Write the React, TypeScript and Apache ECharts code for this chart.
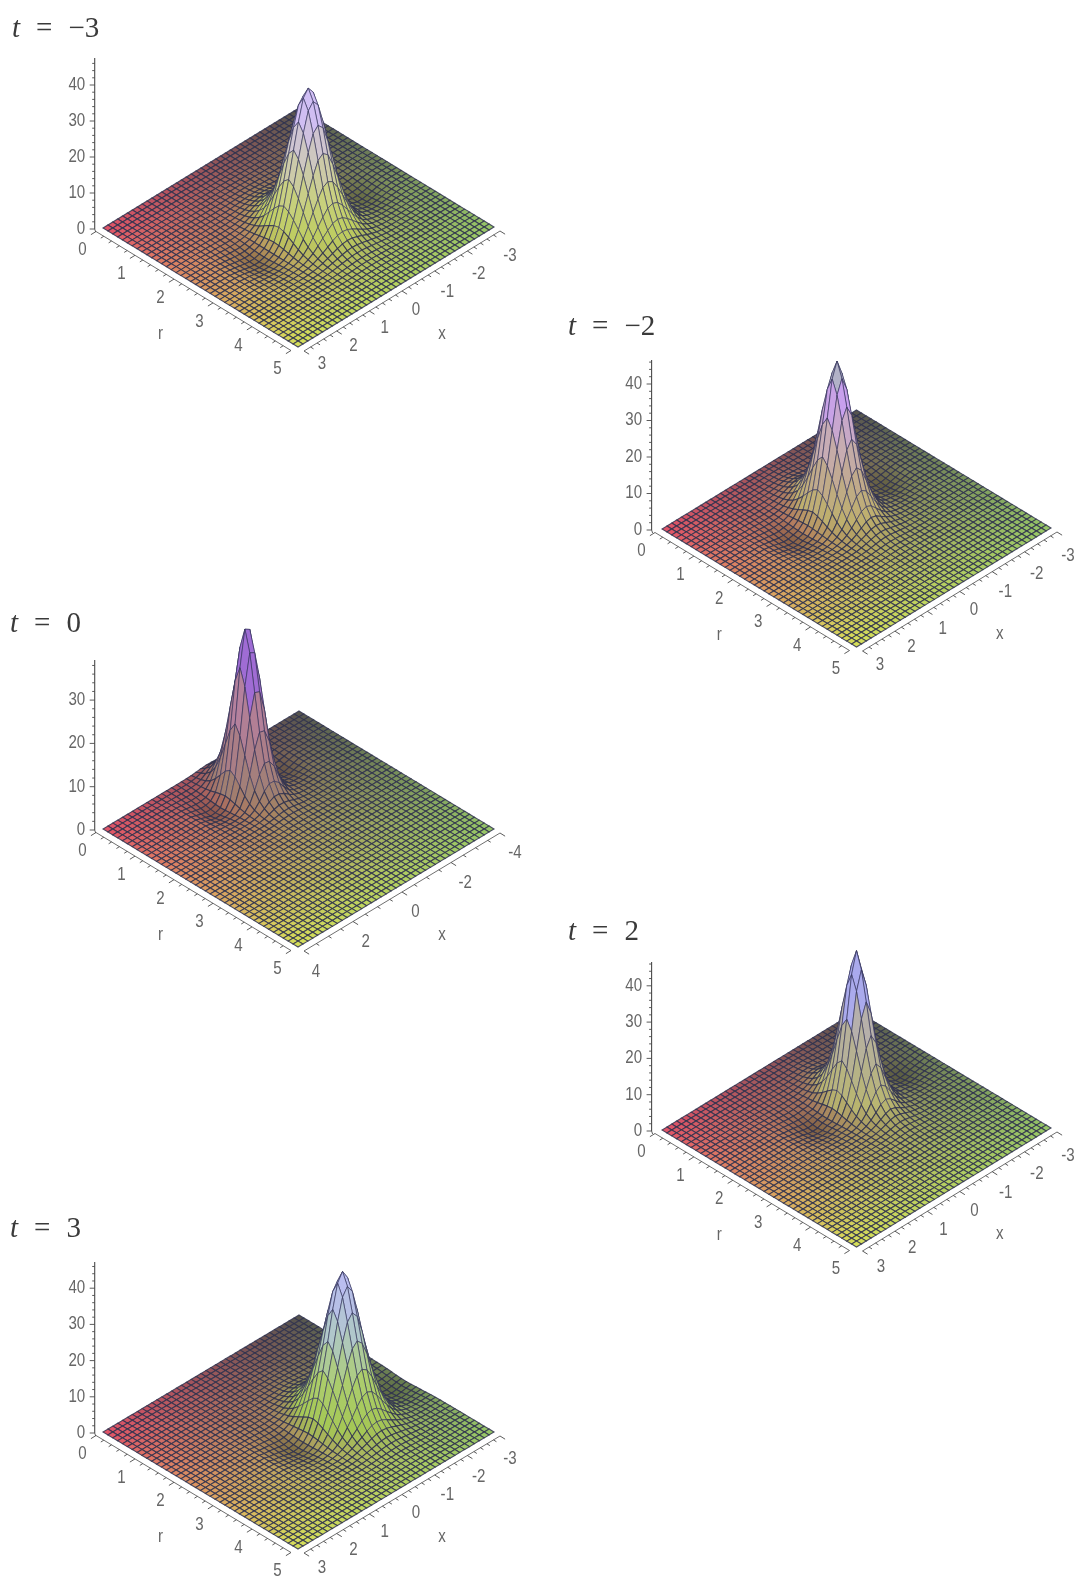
import React, { useEffect, useRef } from "react";
import * as echarts from "echarts";

const W = 1081;
const H = 1580;
const N = 40;

// Heights of each surface along r (at the crest's x), one value per mesh line.
const zAlongR_tm3 = [0,0,0,0,0,0.1,0.1,0.2,0.3,0.45,0.7,1.2,1.9,3,4.6,7.2,10.8,16,23,30,35.8,38.7,35.8,30,23,16,10.8,7.2,4.6,3,1.9,1.2,0.7,0.45,0.3,0.2,0.1,0.1,0,0,0];
const zAlongR_tm2 = [0,0.1,0.2,0.3,0.5,0.9,1.5,2.4,3.8,6,9.6,15,22,30,37,41,37,30,22,15,9.6,6,3.8,2.4,1.5,0.9,0.5,0.3,0.2,0.1,0.1,0,0,0,0,0,0,0,0,0,0];
const zAlongR_t0 = [0.4,1.4,2.7,5,9,15.5,24,32.5,37.3,32.5,24,15.5,9,5,2.7,1.4,0.7,0.4,0.2,0.1,0.1,0,0,0,0,0,0,0,0,0,0,0,0,0,0,0,0,0,0,0,0];
const zAlongR_t2 = [0,0.1,0.15,0.25,0.4,0.7,1.1,1.9,3,4.9,8,13,20,28.5,36.5,41,36.5,28.5,20,13,8,4.9,3,1.9,1.1,0.7,0.4,0.25,0.15,0.1,0.1,0,0,0,0,0,0,0,0,0,0];
const zAlongR_t3 = [0,0,0,0,0,0,0.1,0.1,0.2,0.3,0.4,0.6,1,1.7,2.8,4.4,7,11,16.5,23.5,30.5,37,40.3,37,30.5,23.5,16.5,11,7,4.4,2.8,1.7,1,0.6,0.4,0.3,0.2,0.1,0.1,0,0];

// Fraction of that height across x, one value per mesh line from x = min to x = max.
const xShape_tm3 = [0,0,0,0,-0.005,-0.011,-0.02,-0.028,-0.033,-0.032,-0.02,0,0.045,0.13,0.26,0.43,0.62,0.8,0.95,1,0.95,0.8,0.62,0.43,0.26,0.13,0.045,0,-0.02,-0.032,-0.033,-0.028,-0.02,-0.011,-0.005,0,0,0,0,0,0];
const xShape_tm2 = [0,0,0,0,0,0,-0.007,-0.015,-0.024,-0.032,-0.034,-0.025,-0.015,0.02,0.09,0.22,0.42,0.66,0.9,1,0.9,0.66,0.42,0.22,0.09,0.02,-0.015,-0.025,-0.034,-0.032,-0.024,-0.015,-0.007,0,0,0,0,0,0,0,0];
const xShape_t0 = [0,0,0,0,0,0,0,0,0,-0.01,-0.02,-0.03,-0.028,-0.015,0.04,0.18,0.45,0.78,0.98,1,0.78,0.45,0.18,0.04,-0.015,-0.028,-0.03,-0.02,-0.01,0,0,0,0,0,0,0,0,0,0,0,0];
const xShape_t2 = [0,0,-0.008,-0.013,-0.02,-0.03,-0.035,-0.033,-0.018,-0.01,0.04,0.14,0.32,0.58,0.86,1,0.86,0.58,0.32,0.14,0.04,-0.01,-0.018,-0.033,-0.035,-0.03,-0.02,-0.013,-0.008,0,0,0,0,0,0,0,0,0,0,0,0];
const xShape_t3 = [-0.015,-0.022,-0.03,-0.035,-0.03,-0.012,0.03,0.11,0.23,0.4,0.58,0.78,0.94,1,0.94,0.78,0.58,0.4,0.23,0.11,0.03,-0.012,-0.03,-0.035,-0.03,-0.022,-0.015,-0.01,0,0,0,0,0,0,0,0,0,0,0,0,0];

const rTicks = [0, 1, 2, 3, 4, 5];
const zTicks = [0, 10, 20, 30, 40];
const zTicksT0 = [0, 10, 20, 30];
const xTicksWide = [-3, -2, -1, 0, 1, 2, 3];
const xTicksT0 = [-4, -2, 0, 2, 4];
const titleValues = ["\u22123", "\u22122", "0", "2", "3"];

type Stop = [number, number, number, number];
const panels = [
  { zr: zAlongR_tm3, xs: xShape_tm3, zT: zTicks, xT: xTicksWide, xMax: 3, xMinor: 0.2, title: titleValues[0],
    L: [103, 228], B: [298, 347], Rt: [494, 227], s: 3.6, axisX: 94.7, topY: 58, nearOff: [24, 16], farOff: [16, 28], titlePos: [12, 27],
    stops: [[4, 190, 205, 95], [12, 200, 208, 125], [22, 205, 200, 185], [32, 208, 190, 242], [40, 210, 192, 248]] as Stop[] },
  { zr: zAlongR_tm2, xs: xShape_tm2, zT: zTicks, xT: xTicksWide, xMax: 3, xMinor: 0.2, title: titleValues[1],
    L: [662, 529], B: [856.5, 647], Rt: [1051, 528], s: 3.65, axisX: 651.6, topY: 360, nearOff: [23.5, 17], farOff: [17, 27], titlePos: [568, 325],
    stops: [[4, 190, 175, 110], [12, 192, 170, 140], [22, 200, 172, 185], [32, 200, 160, 238], [36.5, 200, 160, 242], [37, 178, 178, 200], [41, 178, 178, 200]] as Stop[] },
  { zr: zAlongR_t0, xs: xShape_t0, zT: zTicksT0, xT: xTicksT0, xMax: 4, xMinor: 0.5, title: titleValues[2],
    L: [103, 829], B: [298, 947], Rt: [494, 829], s: 4.33, axisX: 94.7, topY: 660, nearOff: [18, 24], farOff: [21, 23], titlePos: [10, 622],
    stops: [[4, 160, 128, 115], [14, 175, 125, 142], [24, 182, 130, 162], [25, 160, 108, 212], [37, 158, 108, 212]] as Stop[] },
  { zr: zAlongR_t2, xs: xShape_t2, zT: zTicks, xT: xTicksWide, xMax: 3, xMinor: 0.2, title: titleValues[3],
    L: [662, 1130], B: [856.5, 1247], Rt: [1051, 1128], s: 3.63, axisX: 651.6, topY: 962, nearOff: [24.5, 19], farOff: [17, 27], titlePos: [568, 930],
    stops: [[4, 185, 182, 112], [12, 182, 178, 138], [26, 182, 175, 180], [27, 170, 170, 236], [41, 170, 170, 238]] as Stop[] },
  { zr: zAlongR_t3, xs: xShape_t3, zT: zTicks, xT: xTicksWide, xMax: 3, xMinor: 0.2, title: titleValues[4],
    L: [103, 1432], B: [298, 1549], Rt: [494, 1432], s: 3.62, axisX: 94.7, topY: 1262, nearOff: [24, 18], farOff: [16, 26], titlePos: [10, 1227],
    stops: [[4, 165, 200, 85], [14, 172, 205, 110], [25, 175, 200, 198], [35, 185, 190, 238], [40, 188, 188, 242]] as Stop[] },
];
type Panel = (typeof panels)[number];

const corners = { left: [226, 82, 104], bottom: [214, 224, 90], right: [150, 198, 104], back: [84, 84, 78] };
const LABEL_FONT = '"Liberation Sans", sans-serif';
const LABEL_COLOR = "#666666";
const AXIS_COLOR = "#4a4a4a";

function ground(p: Panel, r: number, x: number) {
  const u = r / 5;
  const v = (p.xMax - x) / (2 * p.xMax);
  return [
    p.L[0] + u * (p.B[0] - p.L[0]) + v * (p.Rt[0] - p.B[0]),
    p.L[1] + u * (p.B[1] - p.L[1]) + v * (p.Rt[1] - p.B[1]),
  ];
}
function gridPoint(p: Panel, i: number, j: number) {
  const r = (i * 5) / N;
  const x = -p.xMax + (j * 2 * p.xMax) / N;
  const g = ground(p, r, x);
  const z = p.zr[i] * p.xs[j];
  return [g[0], g[1] - z * p.s, z];
}
function cellColor(p: Panel, i: number, j: number, z: number) {
  const u = (i + 0.5) / N;
  const v = 1 - (j + 0.5) / N;
  const base = [0, 1, 2].map(
    (k) =>
      (1 - u) * (1 - v) * corners.left[k] +
      u * (1 - v) * corners.bottom[k] +
      u * v * corners.right[k] +
      (1 - u) * v * corners.back[k],
  );
  let c = base;
  if (z < 0) {
    c = base.map((b) => b * Math.max(0.55, 1 + z * 0.2));
  } else {
    const st = p.stops;
    if (z < st[0][0]) {
      const w = z / st[0][0];
      c = base.map((b, k) => b * (1 - w) + st[0][k + 1] * w);
    } else {
      let a = st[st.length - 1];
      let b = a;
      for (let n = 0; n < st.length - 1; n++) {
        if (z >= st[n][0] && z <= st[n + 1][0]) {
          a = st[n];
          b = st[n + 1];
          break;
        }
      }
      const w = b[0] === a[0] ? 0 : (z - a[0]) / (b[0] - a[0]);
      c = [1, 2, 3].map((k) => a[k] * (1 - w) + b[k] * w);
    }
  }
  return `rgb(${c.map((n) => Math.round(n)).join(",")})`;
}

function surfaceSeries(p: Panel) {
  const data: number[][] = [];
  for (let i = 0; i < N; i++) for (let j = 0; j < N; j++) data.push([i, j]);
  return {
    type: "custom",
    silent: true,
    clip: false,
    data,
    renderItem: (_: any, api: any) => {
      const i = api.value(0);
      const j = api.value(1);
      const q = [gridPoint(p, i, j), gridPoint(p, i + 1, j), gridPoint(p, i + 1, j + 1), gridPoint(p, i, j + 1)];
      const z = (q[0][2] + q[1][2] + q[2][2] + q[3][2]) / 4;
      return {
        type: "polygon",
        shape: { points: q.map((a) => api.coord([a[0], a[1]])) },
        style: {
          fill: cellColor(p, i, j, z),
          stroke: z > 3 ? "rgba(52,52,92,0.8)" : "rgba(48,50,78,0.85)",
          lineWidth: z > 3 ? 0.8 : 1.1,
        },
      };
    },
  };
}

type Seg = [number, number, number, number, number];
function axisSeries(p: Panel) {
  const segs: Seg[] = [];
  const rOff = [-7, 3.5];
  const xOff = [6, 4];
  const rDir = [-0.85, 0.53];
  const xDir = [0.85, 0.53];
  const a = ground(p, 0, p.xMax);
  const b = ground(p, 5, p.xMax);
  const c = ground(p, 5, -p.xMax);
  segs.push([a[0] + rOff[0], a[1] + rOff[1], b[0] + rOff[0], b[1] + rOff[1], 0.8]);
  segs.push([b[0] + xOff[0], b[1] + xOff[1], c[0] + xOff[0], c[1] + xOff[1], 0.8]);
  for (let k = 0; k <= 25; k++) {
    const g = ground(p, k * 0.2, p.xMax);
    const len = k % 5 === 0 ? 6 : 3.5;
    const sx = g[0] + rOff[0];
    const sy = g[1] + rOff[1];
    segs.push([sx, sy, sx + rDir[0] * len, sy + rDir[1] * len, 0.9]);
  }
  const xCount = Math.round((2 * p.xMax) / p.xMinor);
  const every = Math.round((p.xT[1] - p.xT[0]) / p.xMinor);
  for (let k = 0; k <= xCount; k++) {
    const g = ground(p, 5, p.xMax - k * p.xMinor);
    const len = k % every === 0 ? 6 : 3.5;
    const sx = g[0] + xOff[0];
    const sy = g[1] + xOff[1];
    segs.push([sx, sy, sx + xDir[0] * len, sy + xDir[1] * len, 0.9]);
  }
  const y0 = p.L[1] + 1;
  segs.push([p.axisX, y0, p.axisX, p.topY, 1.1]);
  segs.push([p.axisX, y0, p.axisX + 1, y0 + 3, 0.9]);
  const topZ = (y0 - p.topY) / p.s;
  for (let z = 0; z <= topZ; z += 2) {
    const len = z % 10 === 0 ? 5 : 2.5;
    const y = y0 - z * p.s;
    segs.push([p.axisX - len, y, p.axisX, y, 0.9]);
  }
  return {
    type: "custom",
    silent: true,
    clip: false,
    data: segs,
    renderItem: (_: any, api: any) => {
      const s = api.coord([api.value(0), api.value(1)]);
      const e = api.coord([api.value(2), api.value(3)]);
      return {
        type: "line",
        shape: { x1: s[0], y1: s[1], x2: e[0], y2: e[1] },
        style: { stroke: AXIS_COLOR, lineWidth: api.value(4) },
      };
    },
  };
}

function labelSeries(p: Panel) {
  const items: { px: number; py: number; text: string; align: string }[] = [];
  const y0 = p.L[1];
  p.zT.forEach((z) => items.push({ px: p.axisX - 9.5, py: y0 - z * p.s, text: String(z), align: "right" }));
  rTicks.forEach((r) => {
    const g = ground(p, r, p.xMax);
    items.push({ px: g[0] - 20.5, py: g[1] + 21.5, text: String(r), align: "center" });
  });
  p.xT.forEach((x) => {
    const g = ground(p, 5, x);
    const f = (p.xMax - x) / (2 * p.xMax);
    items.push({
      px: g[0] + p.nearOff[0] + (p.farOff[0] - p.nearOff[0]) * f,
      py: g[1] + p.nearOff[1] + (p.farOff[1] - p.nearOff[1]) * f,
      text: String(x),
      align: "center",
    });
  });
  const rm = ground(p, 2.5, p.xMax);
  const xm = ground(p, 5, 0);
  items.push({ px: rm[0] - 40, py: rm[1] + 46, text: "r", align: "center" });
  items.push({ px: xm[0] + 46, py: xm[1] + 46, text: "x", align: "center" });
  return {
    type: "custom",
    silent: true,
    clip: false,
    data: items.map((t, n) => [t.px, t.py, n]),
    renderItem: (_: any, api: any) => {
      const t = items[api.value(2)];
      const c = api.coord([api.value(0), api.value(1)]);
      return {
        type: "text",
        x: c[0],
        y: c[1],
        scaleX: 0.84,
        style: {
          x: 0,
          y: 0,
          text: t.text,
          fill: LABEL_COLOR,
          font: `18px ${LABEL_FONT}`,
          textAlign: t.align,
          textVerticalAlign: "middle",
        },
      };
    },
  };
}

export default function App() {
  const ref = useRef<HTMLDivElement>(null);
  useEffect(() => {
    const chart = echarts.init(ref.current!, undefined, { renderer: "svg", width: W, height: H });
    const serif = '"Liberation Serif", serif';
    chart.setOption({
      animation: false,
      backgroundColor: "#ffffff",
      grid: { left: 0, right: 0, top: 0, bottom: 0 },
      xAxis: { type: "value", min: 0, max: W, show: false },
      yAxis: { type: "value", min: 0, max: H, inverse: true, show: false },
      graphic: panels.map((p) => ({
        type: "text",
        x: p.titlePos[0],
        y: p.titlePos[1],
        style: {
          text: `{i|t}{s| }{n|=}{s| }{n|${p.title}}`,
          textVerticalAlign: "middle",
          rich: {
            i: { fontFamily: serif, fontStyle: "italic", fontSize: 29, fill: "#3a3a3a", lineHeight: 30 },
            n: { fontFamily: serif, fontSize: 29, fill: "#3a3a3a", lineHeight: 30 },
            s: { fontFamily: serif, fontSize: 64, fill: "#3a3a3a", lineHeight: 30 },
          },
        },
      })),
      series: panels.flatMap((p) => [axisSeries(p), surfaceSeries(p), labelSeries(p)]),
    });
    return () => chart.dispose();
  }, []);
  return (
    <div
      ref={ref}
      style={{ position: "absolute", left: 0, top: 0, width: W, height: H, filter: "blur(0.6px)" }}
    />
  );
}
